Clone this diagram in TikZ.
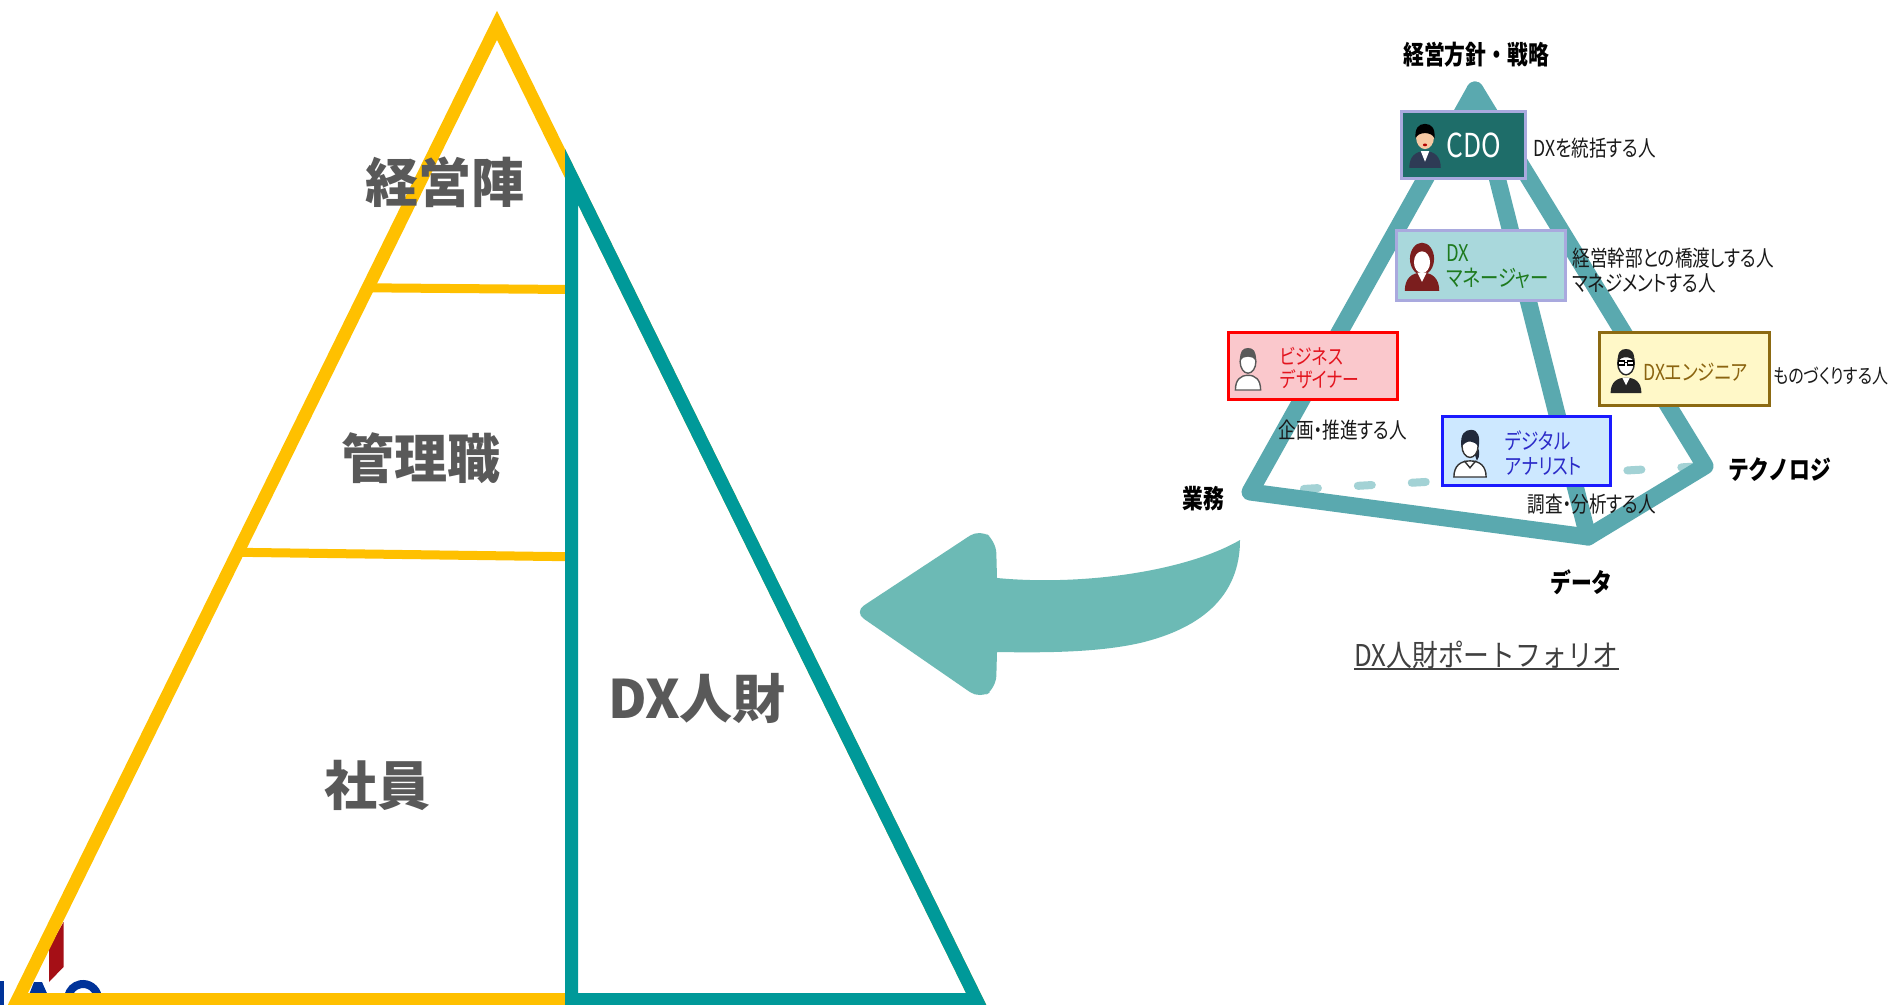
\documentclass[tikz,border=0pt]{standalone}
\usepackage{fontspec}
\setmainfont{Noto Sans CJK JP}
\newfontfamily\jp{Noto Sans CJK JP}
\newfontfamily\jpn{Noto Sans CJK JP}[FakeStretch=0.8, RawFeature={+palt}]
\newfontfamily\jpb{Noto Sans CJK JP}[FakeStretch=0.8]
\newfontfamily\jpt{Noto Sans CJK JP}[FakeStretch=0.86]

\definecolor{pyrYellow}{HTML}{FFC000}
\definecolor{pyrTeal}{HTML}{009999}
\definecolor{lblGray}{HTML}{595959}
\definecolor{sketch}{HTML}{5AA9AF}
\definecolor{sketchLight}{HTML}{A3D2D5}
\definecolor{arrowTeal}{HTML}{6CBAB5}
\definecolor{logoRed}{HTML}{A50F16}
\definecolor{logoBlue}{HTML}{003399}
\definecolor{cdoFill}{HTML}{1E6D69}
\definecolor{lavender}{HTML}{A9A9DE}
\definecolor{mgrFill}{HTML}{A9D8DC}
\definecolor{mgrGreen}{HTML}{1E7A1E}
\definecolor{bdFill}{HTML}{FAC8CC}
\definecolor{bdRed}{HTML}{FF0000}
\definecolor{bdText}{HTML}{E3141E}
\definecolor{daFill}{HTML}{CDE8FF}
\definecolor{daBlue}{HTML}{1A1AFF}
\definecolor{daText}{HTML}{2B2BC8}
\definecolor{engFill}{HTML}{FFF8C8}
\definecolor{engBrown}{HTML}{8C6A12}
\definecolor{engText}{HTML}{8B6410}
\definecolor{titleGray}{HTML}{404040}
\definecolor{skin}{HTML}{F6C9A3}
\definecolor{navy}{HTML}{2E3B55}
\definecolor{wine}{HTML}{7B1E1E}

\tikzset{
  biglbl/.style={inner sep=0, text=lblGray, font=\jp\bfseries\fontsize{26.5}{30}\selectfont},
  rolebox/.style={rectangle, inner sep=0, line width=1.5pt},
  boxtxt/.style={inner sep=0, anchor=west, align=left},
  note/.style={inner sep=0, anchor=west, align=left, text=black!90, font=\jpn\fontsize{11}{12.25}\selectfont},
  axislbl/.style={inner sep=0, text=black, font=\jpb\bfseries\fontsize{13}{15}\selectfont},
  sketchline/.style={draw=sketch, line width=8.5pt, line cap=round, line join=round},
  backline/.style={draw=sketchLight, line width=4pt, line cap=round, dash pattern=on 7pt off 20pt},
}

\begin{document}
\begin{tikzpicture}[x=0.5pt, y=-0.5pt]
\useasboundingbox (0,0) rectangle (1888,1005);
\fill[white] (0,0) rectangle (1888,1005);

% --- logo fragment in the corner ---
\fill[logoRed] (49,982) -- (49,948) -- (63.5,922) -- (63.5,967) -- cycle;
\fill[logoBlue] (0,981) rectangle (3.5,1005);
\fill[logoBlue] (27,1000) -- (34,982) -- (42,982) -- (50,1000) -- cycle;
\draw[logoBlue, line width=4pt] (83,999) ++(-10:15) arc[start angle=-10, end angle=-170, radius=15];

% --- staff pyramid ---
\draw[pyrYellow, line width=6.4pt] (497,25.3) -- (976.4,999.5) -- (17.6,999.5) -- cycle;
\draw[pyrYellow, line width=4.5pt] (368,287.8) -- (567,289.5);
\draw[pyrYellow, line width=4.5pt] (238,552.3) -- (567,556.7);
\draw[pyrTeal, line width=6.5pt] (571.5,176.7) -- (976.4,999.5) -- (571.5,999.5) -- cycle;

\node[biglbl] (keiei) at (445,182) {経営陣};
\node[biglbl] (kanri) at (421,458) {管理職};
\node[biglbl] (shain) at (377,785) {社員};
\node[biglbl] (dxjz) at (697,698) {DX人財};

% --- big curved arrow ---
\fill[arrowTeal] (854,612) [rounded corners=6pt] -- (980,529) -- (996,541) [sharp corners] -- (997,578)
  .. controls (1080,586) and (1185,572) .. (1240,540)
  .. controls (1240,585) and (1215,625) .. (1140,643)
  .. controls (1100,652) and (1050,653) .. (997,652)
  [rounded corners=6pt] -- (996,688) -- (980,699) -- cycle;

% --- portfolio pyramid ---
\coordinate (apex) at (1475,90);
\coordinate (gyomu) at (1250,492);
\coordinate (data) at (1588,537);
\coordinate (tech) at (1705,466);
\draw[backline] (gyomu) -- (tech);
\draw[sketchline] (apex) -- (gyomu) -- (data) -- (tech) -- cycle;
\draw[sketchline] (apex) -- (data);

% role boxes
\node[rolebox, fill=cdoFill, draw=lavender, minimum width=61.7pt, minimum height=33.3pt] (cdo) at (1463.4,145) {};
\node[rolebox, fill=mgrFill, draw=lavender, minimum width=84.5pt, minimum height=34.7pt] (mgr) at (1480.5,265.4) {};
\node[rolebox, fill=bdFill, draw=bdRed, minimum width=84.5pt, minimum height=33pt] (bd) at (1312.5,366) {};
\node[rolebox, fill=daFill, draw=daBlue, minimum width=84pt, minimum height=34.5pt] (da) at (1526,450.5) {};
\node[rolebox, fill=engFill, draw=engBrown, minimum width=85pt, minimum height=36pt] (eng) at (1684,369) {};

% person icons
% CDO
\begin{scope}[shift={(1425,168)}, scale=1.05]
  \fill[navy] (-15,0) .. controls (-15,-11) and (-9,-16) .. (0,-16) .. controls (9,-16) and (15,-11) .. (15,0) -- cycle;
  \fill[white] (-4,-16) -- (4,-16) -- (0,-6) -- cycle;
  \fill[skin] (0,-29) ellipse [x radius=8.5, y radius=11];
  \fill[black] (-9,-28) .. controls (-10,-38) and (-6,-42) .. (0,-42) .. controls (6,-42) and (10,-38) .. (9,-28) .. controls (7,-35) and (-7,-35) .. (-9,-28) -- cycle;
  \fill[red!70!black] (0,-22) ellipse [x radius=2, y radius=1.3];
\end{scope}
% DX manager
\begin{scope}[shift={(1422,291)}, scale=1.15]
  \fill[wine] (0,-28) ellipse [x radius=10.5, y radius=14];
  \fill[wine] (-15,0) .. controls (-15,-11) and (-9,-16) .. (0,-16) .. controls (9,-16) and (15,-11) .. (15,0) -- cycle;
  \fill[white] (-4,-16) -- (4,-16) -- (0,-8) -- cycle;
  \fill[white] (0,-25) ellipse [x radius=7, y radius=9.5];
\end{scope}
% business designer
\begin{scope}[shift={(1248,390)}, scale=1.05]
  \draw[black!65, fill=white, line width=0.7pt] (-12,0) .. controls (-12,-10) and (-7,-14) .. (0,-14) .. controls (7,-14) and (12,-10) .. (12,0) -- cycle;
  \draw[black!65, fill=white, line width=0.7pt] (0,-27) ellipse [x radius=7.5, y radius=11];
  \fill[black!65] (-7.5,-28) .. controls (-8,-37) and (-5,-40) .. (0,-40) .. controls (5,-40) and (8,-37) .. (7.5,-28) .. controls (5,-33) and (-5,-33) .. (-7.5,-28) -- cycle;
\end{scope}
% digital analyst
\begin{scope}[shift={(1470,477)}, scale=1.15]
  \draw[black!80, fill=white, line width=0.7pt] (-14,0) .. controls (-14,-10) and (-8,-14) .. (0,-14) .. controls (8,-14) and (14,-10) .. (14,0) -- cycle;
  \draw[black!80, line width=0.7pt] (-5,-14) -- (0,-8) -- (5,-14);
  \fill[navy!70!black] (4,-30) .. controls (9,-24) and (9,-18) .. (6,-14) -- (4,-20) -- cycle;
  \draw[black!80, fill=white, line width=0.7pt] (0,-27) ellipse [x radius=7, y radius=10];
  \fill[navy!70!black] (-7.5,-26) .. controls (-9,-38) and (-4,-41) .. (1,-41) .. controls (7,-41) and (9,-35) .. (7.5,-26) .. controls (4,-32) and (-3,-33) .. (-7.5,-26) -- cycle;
\end{scope}
% DX engineer
\begin{scope}[shift={(1626,393)}, scale=1.1]
  \fill[black!85] (-14,0) .. controls (-14,-10) and (-8,-14) .. (0,-14) .. controls (8,-14) and (14,-10) .. (14,0) -- cycle;
  \fill[white] (-3.5,-14) -- (3.5,-14) -- (0,-7) -- cycle;
  \draw[black!85, fill=white, line width=0.7pt] (0,-27) ellipse [x radius=7.5, y radius=10.5];
  \fill[black!85] (-7.5,-28) .. controls (-8,-37) and (-5,-40) .. (0,-40) .. controls (5,-40) and (8,-37) .. (7.5,-28) .. controls (5,-34) and (-5,-34) .. (-7.5,-28) -- cycle;
  \draw[black, line width=0.6pt] (-6.5,-29) rectangle (-1.2,-25.5) (1.2,-29) rectangle (6.5,-25.5) (-1.2,-27.5) -- (1.2,-27.5);
\end{scope}

% box captions
\node[boxtxt, text=white, font=\jpn\fontsize{16.5}{16.5}\selectfont] (cdotxt) at (1446,145) {CDO};
\node[boxtxt, text=mgrGreen, font=\jpn\fontsize{11.5}{12.5}\selectfont] (mgrtxt) at (1446,266.5) {DX\\マネージャー};
\node[boxtxt, text=bdText, font=\jpn\fontsize{10.5}{11.75}\selectfont] (bdtxt) at (1280,368) {ビジネス\\デザイナー};
\node[boxtxt, text=daText, font=\jpn\fontsize{11}{12.5}\selectfont] (datxt) at (1505,453.5) {デジタル\\アナリスト};
\node[boxtxt, text=engText, font=\jpn\fontsize{11}{12}\selectfont] (engtxt) at (1643,372.5) {DXエンジニア};

% role descriptions
\node[note] (cdonote) at (1533,148) {DXを統括する人};
\node[note] (mgrnote) at (1572,270.5) {経営幹部との橋渡しする人\\マネジメントする人};
\node[note] (bdnote) at (1278,430) {企画・推進する人};
\node[note] (danote) at (1527,504) {調査・分析する人};
\node[note, font=\jpn\fontsize{10}{12}\selectfont] (engnote) at (1773,376) {ものづくりする人};

% axis labels
\node[axislbl] (strategy) at (1476,54.5) {経営方針・戦略};
\node[axislbl] (business) at (1203.5,498.5) {業務};
\node[axislbl] (technology) at (1779.5,469.5) {テクノロジ};
\node[axislbl] (datalbl) at (1581.5,582.5) {データ};

% caption
\node[inner sep=0, text=titleGray, font=\jpt\fontsize{15}{15}\selectfont] (portfolio) at (1486.5,654.5) {DX人財ポートフォリオ};
\draw[titleGray, line width=0.8pt] (portfolio.south west) -- (portfolio.south east);
\end{tikzpicture}
\end{document}
